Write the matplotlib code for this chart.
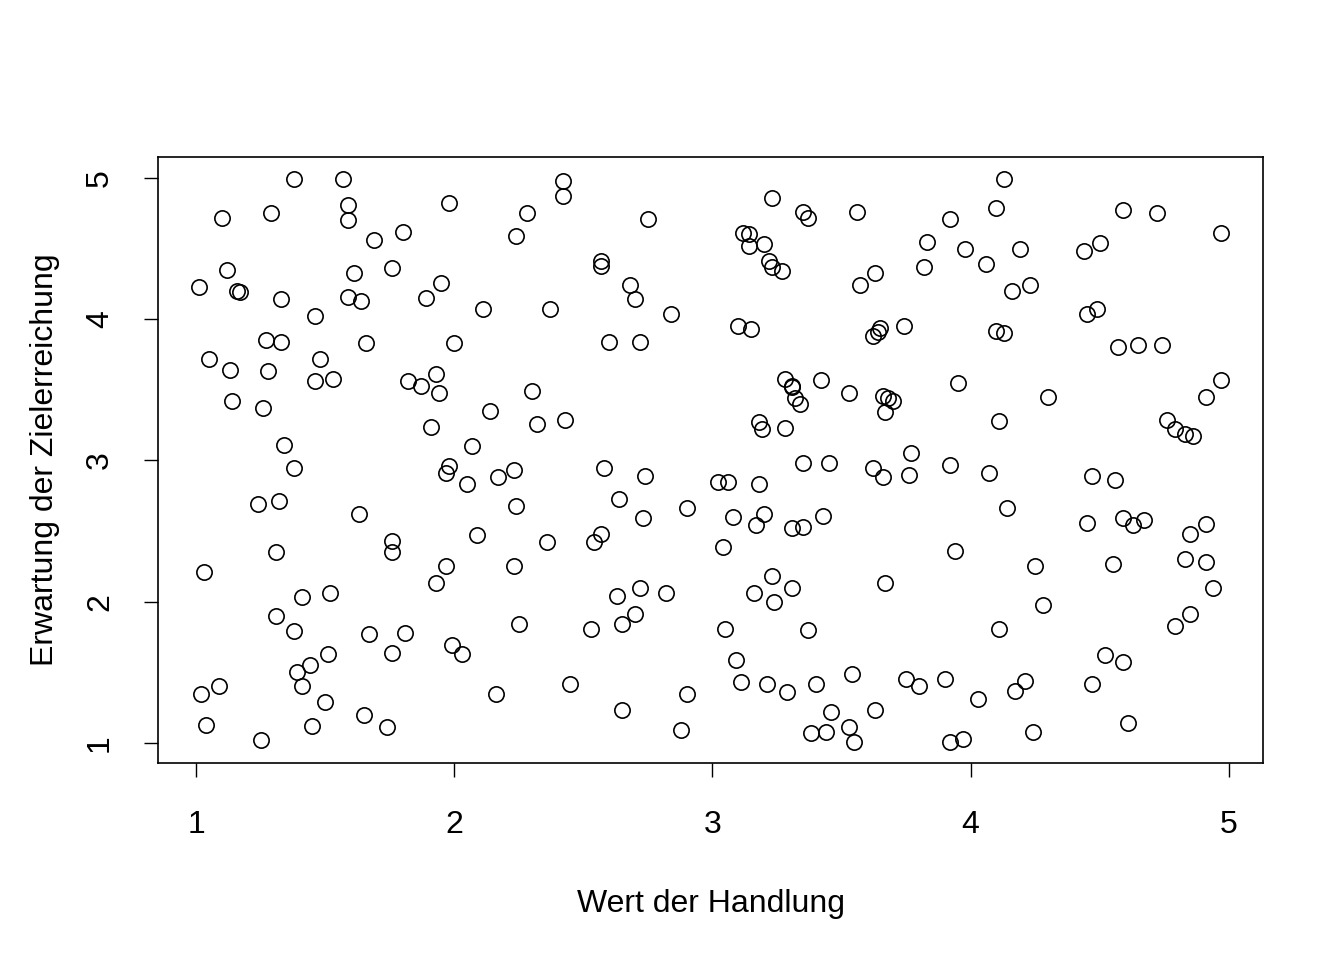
import matplotlib.pyplot as plt

plt.rcParams['font.family'] = ['Liberation Sans', 'DejaVu Sans']

# Wert der Handlung (x) und Erwartung der Zielerreichung (y)
wert = [
    1.01, 1.02, 1.03, 1.04, 1.05, 1.09, 1.10, 1.12, 1.13, 1.14, 1.16, 1.17,
    1.26, 1.24, 1.25, 1.27, 1.28, 1.29, 1.31, 1.31, 1.32, 1.33, 1.33, 1.34,
    1.38, 1.38, 1.38, 1.39, 1.41, 1.41, 1.44, 1.45, 1.46, 1.46, 1.48, 1.50,
    1.51, 1.52, 1.53, 1.57, 1.59, 1.59, 1.59, 1.61, 1.63, 1.64, 1.65, 1.66,
    1.67, 1.69, 1.74, 1.76, 1.76, 1.76, 1.76, 1.80, 1.81, 1.82, 1.87, 1.89,
    1.91, 1.93, 1.93, 1.94, 1.95, 1.97, 1.98, 1.97, 1.98, 1.99, 2.00, 2.03,
    2.05, 2.07, 2.09, 2.11, 2.14, 2.16, 2.17, 2.23, 2.24, 2.23, 2.24, 2.25,
    2.28, 2.30, 2.32, 2.36, 2.37, 2.42, 2.42, 2.43, 2.45, 2.53, 2.54, 2.57,
    2.57, 2.57, 2.58, 2.60, 2.63, 2.64, 2.65, 2.65, 2.68, 2.70, 2.70, 2.72,
    2.72, 2.73, 2.74, 2.75, 2.82, 2.84, 2.88, 2.90, 2.90,
    3.02, 3.04, 3.06, 3.05, 3.08, 3.09, 3.10, 3.11, 3.12, 3.14, 3.14, 3.15,
    3.16, 3.17, 3.18, 3.18, 3.19, 3.20, 3.20, 3.21, 3.22, 3.23, 3.23, 3.23,
    3.24, 3.27, 3.28, 3.28, 3.29, 3.31, 3.31, 3.31, 3.31, 3.32, 3.34, 3.35,
    3.35, 3.35, 3.37, 3.37, 3.38, 3.40, 3.42, 3.43, 3.44, 3.45, 3.46, 3.53,
    3.53, 3.54, 3.55, 3.56, 3.57, 3.62, 3.63, 3.63, 3.62, 3.64, 3.65, 3.66,
    3.66, 3.67, 3.67, 3.68, 3.70, 3.74, 3.75, 3.76, 3.77, 3.80, 3.82, 3.83,
    3.90, 3.92, 3.92, 3.92, 3.94, 3.95, 3.97, 3.98, 4.03, 4.06, 4.07, 4.10,
    4.10, 4.11, 4.11, 4.13, 4.13, 4.14, 4.16, 4.17, 4.19, 4.21, 4.23, 4.24,
    4.25, 4.28, 4.30,
    4.44, 4.45, 4.45, 4.47, 4.47, 4.49, 4.50, 4.52, 4.56, 4.55, 4.57, 4.59,
    4.59, 4.59, 4.61, 4.63, 4.65, 4.67, 4.72, 4.74, 4.76, 4.79, 4.79, 4.83,
    4.83, 4.85, 4.85, 4.86, 4.91, 4.91, 4.91, 4.94, 4.97, 4.97,
]
erwartung = [
    4.23, 1.35, 2.21, 1.13, 3.72, 1.40, 4.72, 4.35, 3.64, 3.42, 4.20, 4.19,
    3.37, 2.69, 1.02, 3.85, 3.63, 4.75, 2.35, 1.90, 2.71, 3.84, 4.14, 3.11,
    4.99, 1.79, 2.95, 1.50, 1.40, 2.03, 1.55, 1.12, 4.02, 3.56, 3.72, 1.29,
    1.63, 2.06, 3.58, 4.99, 4.81, 4.70, 4.16, 4.33, 2.62, 4.13, 1.20, 3.83,
    1.77, 4.56, 1.11, 4.36, 2.43, 2.35, 1.64, 4.62, 1.78, 3.56, 3.53, 4.15,
    3.24, 3.61, 2.13, 3.48, 4.26, 2.25, 2.96, 2.91, 4.82, 1.69, 3.83, 1.63,
    2.83, 3.10, 2.47, 4.07, 3.35, 1.35, 2.88, 2.93, 2.68, 2.25, 4.59, 1.84,
    4.75, 3.49, 3.26, 2.42, 4.07, 4.98, 4.87, 3.29, 1.42, 1.81, 2.42, 2.48,
    4.38, 4.41, 2.95, 3.84, 2.04, 2.73, 1.23, 1.84, 4.24, 1.91, 4.14, 3.84,
    2.10, 2.59, 2.89, 4.71, 2.06, 4.04, 1.09, 2.66, 1.35,
    2.85, 2.39, 2.85, 1.81, 2.60, 1.59, 3.95, 1.43, 4.61, 4.60, 4.52, 3.93,
    2.06, 2.54, 3.27, 2.83, 3.22, 2.62, 4.53, 1.42, 4.41, 4.86, 2.18, 4.37,
    2.00, 4.34, 3.58, 3.23, 1.36, 3.53, 3.52, 2.52, 2.10, 3.44, 3.40, 2.53,
    4.76, 2.98, 4.72, 1.80, 1.07, 1.42, 3.57, 2.61, 1.08, 2.98, 1.22, 1.11,
    3.48, 1.49, 1.01, 4.76, 4.24, 2.95, 4.33, 1.23, 3.88, 3.91, 3.94, 3.46,
    2.88, 2.13, 3.34, 3.44, 3.42, 3.95, 1.45, 2.90, 3.05, 1.40, 4.37, 4.55,
    1.45, 4.71, 1.01, 2.97, 2.36, 3.55, 1.03, 4.50, 1.31, 4.39, 2.91, 4.79,
    3.92, 1.81, 3.28, 3.90, 4.99, 2.66, 4.20, 1.37, 4.50, 1.44, 4.24, 1.08,
    2.25, 1.98, 3.45,
    4.48, 4.04, 2.56, 1.42, 2.89, 4.07, 4.54, 1.62, 2.86, 2.27, 3.80, 2.59,
    4.77, 1.57, 1.14, 2.54, 3.82, 2.58, 4.75, 3.82, 3.29, 3.22, 1.83, 3.19,
    2.30, 2.48, 1.91, 3.17, 3.45, 2.55, 2.28, 2.10, 4.61, 3.57,
]
ticks = [1, 2, 3, 4, 5]

fig = plt.figure(figsize=(13.44, 9.6), dpi=100)
ax = fig.add_axes([0.1176, 0.2052, 0.8221, 0.6313])
ax.plot(wert, erwartung, 'o', markerfacecolor='none', markeredgecolor='black',
        markersize=11, markeredgewidth=1.2)

ax.set_xlim(0.853, 5.132)
ax.set_ylim(0.858, 5.149)
ax.set_xticks(ticks)
ax.set_yticks(ticks)
ax.set_xticklabels([str(t) for t in ticks], fontsize=23)
ax.set_yticklabels([str(t) for t in ticks], fontsize=23, rotation=90, va='center')
ax.tick_params(length=10, width=1)
ax.tick_params(axis='x', pad=24)
ax.tick_params(axis='y', pad=21)
for s in ax.spines.values():
    s.set_linewidth(1.2)

ax.set_xlabel('Wert der Handlung', fontsize=23, labelpad=35)
ax.set_ylabel('Erwartung der Zielerreichung', fontsize=23, labelpad=18)

plt.savefig('out.png', dpi=100)
